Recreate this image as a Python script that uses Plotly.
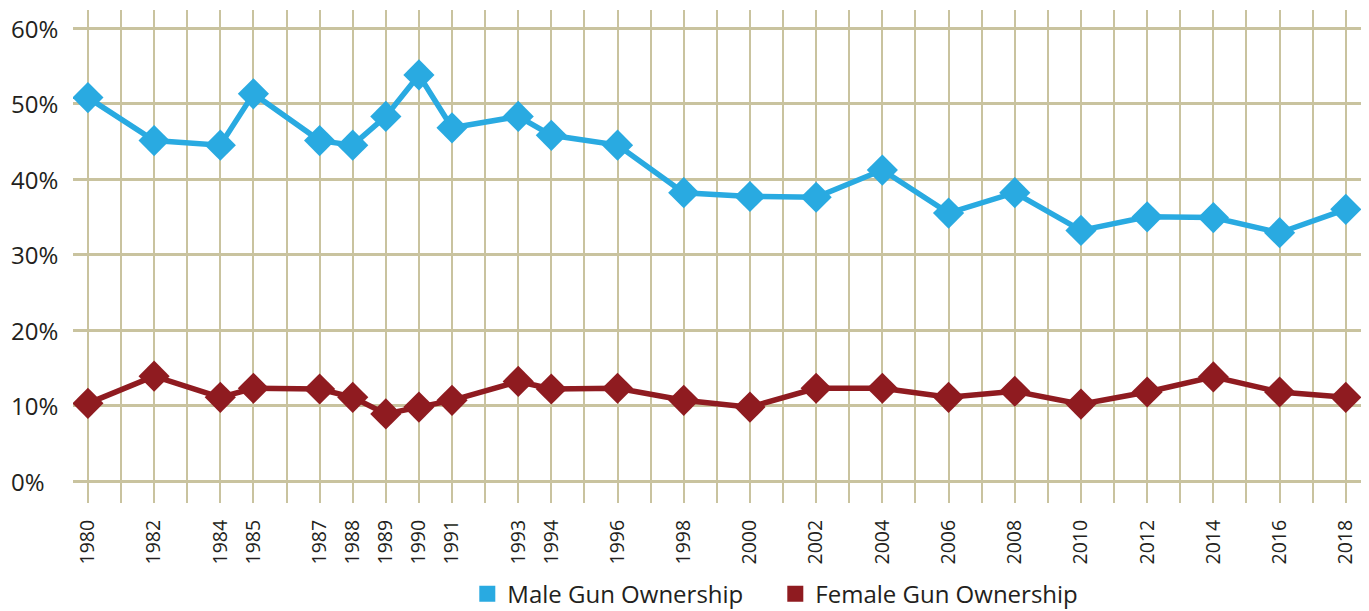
import plotly.graph_objects as go

years = [1980, 1982, 1984, 1985, 1987, 1988, 1989, 1990, 1991, 1993, 1994, 1996,
         1998, 2000, 2002, 2004, 2006, 2008, 2010, 2012, 2014, 2016, 2018]
male = [50.8, 45.1, 44.5, 51.3, 45.1, 44.5, 48.3, 53.8, 46.8, 48.3, 45.8, 44.5,
        38.2, 37.7, 37.6, 41.2, 35.5, 38.2, 33.2, 35.0, 34.9, 32.9, 36.0]
female = [10.3, 13.9, 11.1, 12.3, 12.2, 11.1, 8.9, 9.8, 10.7, 13.2, 12.2, 12.3,
          10.7, 9.8, 12.3, 12.3, 11.1, 11.9, 10.2, 11.8, 13.8, 11.8, 11.1]
y_ticks = [0, 10, 20, 30, 40, 50, 60]
y_labels = [f"{v}%" for v in y_ticks]
series_names = ["Male Gun Ownership", "Female Gun Ownership"]

BLUE = "#29aae1"
RED = "#8f1b20"
GRID = "#c9c39f"
FONT = "Open Sans"
TEXT = "#231f20"

fig = go.Figure()
for vals, color in [(male, BLUE), (female, RED)]:
    fig.add_trace(go.Scatter(
        x=years, y=vals, mode="lines+markers",
        line=dict(color=color, width=5.5),
        marker=dict(symbol="diamond", size=24, color=color),
        showlegend=False, hoverinfo="x+y"))
for name, color in zip(series_names, [BLUE, RED]):
    fig.add_trace(go.Scatter(
        x=[None], y=[None], mode="markers", name=name,
        marker=dict(symbol="square", size=18, color=color)))

for v, lab in zip(y_ticks, y_labels):
    fig.add_annotation(x=0, xref="paper", xshift=-64, xanchor="left",
                       y=v, yref="y", text=lab, showarrow=False,
                       font=dict(family=FONT, size=24, color=TEXT))

# the page body adds an 8px margin, so the figure is 8px smaller than the window
fig.update_layout(
    width=1361, height=603,
    margin=dict(l=65, r=5, t=2, b=108, autoexpand=False),
    paper_bgcolor="white", plot_bgcolor="white",
    font=dict(family=FONT, color=TEXT),
    xaxis=dict(
        range=[1979.55, 2018.55], automargin=False,
        tickmode="array", tickvals=years, ticktext=[str(y) for y in years],
        tickangle=-90, tickfont=dict(size=19.5, family=FONT, color=TEXT),
        showgrid=True, gridcolor=GRID, gridwidth=2,
        minor=dict(dtick=1, tick0=1980, showgrid=True, gridcolor=GRID, gridwidth=2),
        zeroline=False, showline=False, ticks="", ticklabelstandoff=12),
    yaxis=dict(
        range=[-2.9, 62.4], tickvals=y_ticks, showticklabels=False, automargin=False,
        showgrid=True, gridcolor=GRID, gridwidth=2.5,
        zeroline=False, showline=False),
    legend=dict(orientation="h", x=0.544, xanchor="center", y=-0.185, yanchor="middle",
                font=dict(size=24, family=FONT, color=TEXT), itemsizing="trace",
                itemwidth=30, tracegroupgap=0, entrywidth=263, entrywidthmode="pixels"),
)

fig.write_html("out.html")
